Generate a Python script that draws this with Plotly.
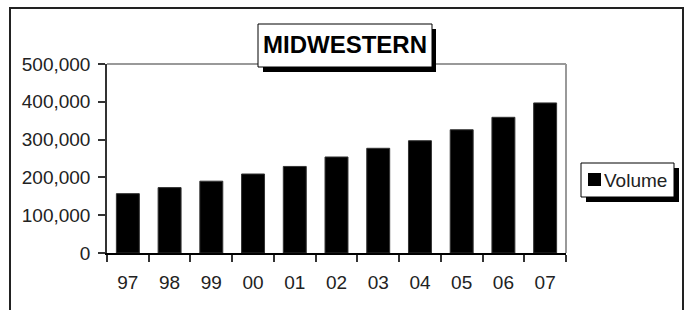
import plotly.graph_objects as go

years = ["97", "98", "99", "00", "01", "02", "03", "04", "05", "06", "07"]
volume = [157000, 173000, 190000, 209000, 229000, 254000, 277000, 297000, 326000, 359000, 397000]
series_name = "Volume"
title_text = "MIDWESTERN"

W, H = 690, 310
L, R, T, B = 107, 566, 64, 253  # plot area in pixels

def px(x):
    return (x - L) / (R - L)

def py(y):
    return (B - y) / (B - T)

fig = go.Figure()
fig.add_trace(go.Bar(
    x=years, y=volume, name=series_name,
    marker=dict(color="black", line=dict(color="#333333", width=1)),
    showlegend=False,
))

FONT = "Liberation Sans, Arial, sans-serif"
shapes = []
# outer chart border
shapes.append(dict(type="rect", xref="paper", yref="paper",
                   x0=px(10), x1=px(683), y0=py(8), y1=py(330),
                   line=dict(color="#222222", width=2), layer="below"))
# plot area top and right borders (gray)
shapes.append(dict(type="line", xref="paper", yref="paper",
                   x0=0, x1=1, y0=1, y1=1, line=dict(color="#999999", width=2)))
shapes.append(dict(type="line", xref="paper", yref="paper",
                   x0=1, x1=1, y0=0, y1=1, line=dict(color="#999999", width=2)))
# title box shadow + box
shapes.append(dict(type="rect", xref="paper", yref="paper",
                   x0=px(263), x1=px(436), y0=py(29), y1=py(72),
                   fillcolor="black", line=dict(width=0)))
shapes.append(dict(type="rect", xref="paper", yref="paper",
                   x0=px(258), x1=px(432), y0=py(24), y1=py(67),
                   fillcolor="white", line=dict(color="black", width=1)))
# legend box shadow + box + swatch
shapes.append(dict(type="rect", xref="paper", yref="paper",
                   x0=px(586), x1=px(679), y0=py(168), y1=py(202),
                   fillcolor="black", line=dict(width=0)))
shapes.append(dict(type="rect", xref="paper", yref="paper",
                   x0=px(581), x1=px(674), y0=py(163), y1=py(197),
                   fillcolor="white", line=dict(color="black", width=1)))
shapes.append(dict(type="rect", xref="paper", yref="paper",
                   x0=px(588), x1=px(601), y0=py(173), y1=py(186),
                   fillcolor="black", line=dict(width=0)))

annotations = [
    dict(text="<b>" + title_text + "</b>", xref="paper", yref="paper",
         x=px(345), y=py(44), xanchor="center", yanchor="middle",
         showarrow=False, font=dict(family=FONT, size=24, color="black")),
    dict(text=series_name, xref="paper", yref="paper",
         x=px(602), y=py(180), xanchor="left", yanchor="middle",
         showarrow=False, font=dict(family=FONT, size=19, color="#222222")),
]

fig.update_layout(
    width=W, height=H,
    margin=dict(l=L, r=W - R, t=T, b=H - B, pad=0),
    paper_bgcolor="white", plot_bgcolor="white",
    bargap=0.45,
    font=dict(family=FONT, size=19, color="#222222"),
    shapes=shapes, annotations=annotations,
    showlegend=False,
)
fig.update_xaxes(
    type="category", tickson="boundaries",
    showline=True, linecolor="black", linewidth=1.5,
    ticks="outside", ticklen=7, tickcolor="#333333", tickwidth=1.5,
    showgrid=False, ticklabelstandoff=11, zeroline=False,
)
fig.update_yaxes(
    range=[0, 500000], dtick=100000, tickformat=",d",
    showline=True, linecolor="#333333", linewidth=1.5,
    ticks="outside", ticklen=7, tickcolor="#333333", tickwidth=1.5,
    showgrid=False, zeroline=False, ticklabelstandoff=4,
)

fig.write_html("out.html", config={"displayModeBar": False},
               post_script="document.body.style.margin='0';document.body.style.overflow='hidden';")
